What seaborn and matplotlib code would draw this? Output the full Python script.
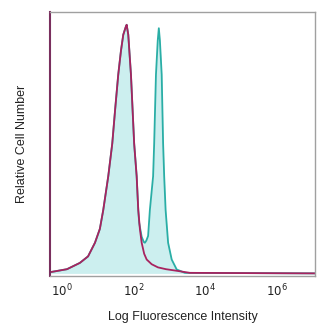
import numpy as np
import pandas as pd
import matplotlib
matplotlib.use("Agg")
import matplotlib.pyplot as plt
import seaborn as sns

# log10 intensity exponents and relative counts
mag_exp = [-0.33, -0.2, 0.13, 0.49, 0.72, 0.913, 1.05, 1.145, 1.285, 1.397, 1.48, 1.565,
           1.64, 1.705, 1.77, 1.80, 1.845, 1.92, 2.01, 2.08, 2.125, 2.17, 2.22, 2.29,
           2.36, 2.5, 2.675, 2.9, 3.15, 3.57, 7.07]
mag_cnt = [0.005, 0.008, 0.016, 0.04, 0.065, 0.117, 0.17, 0.242, 0.371, 0.496, 0.63, 0.760,
           0.85, 0.912, 0.94, 0.950, 0.912, 0.760, 0.496, 0.371, 0.242, 0.17, 0.117, 0.075,
           0.053, 0.035, 0.023, 0.016, 0.011, 0.002, 0.0]

teal_exp = [-0.33, -0.2, 0.13, 0.49, 0.72, 0.913, 1.05, 1.145, 1.285, 1.397, 1.48, 1.565,
            1.64, 1.705, 1.77, 1.80, 1.845, 1.92, 2.01, 2.08, 2.125, 2.15, 2.22, 2.28,
            2.31, 2.35, 2.40, 2.45, 2.54, 2.57, 2.62, 2.67, 2.70, 2.73, 2.78, 2.82, 2.85,
            2.89, 2.96, 3.06, 3.20, 3.43, 7.07]
teal_cnt = [0.005, 0.008, 0.016, 0.04, 0.065, 0.117, 0.17, 0.242, 0.371, 0.496, 0.63, 0.760,
            0.85, 0.912, 0.94, 0.950, 0.912, 0.760, 0.496, 0.371, 0.242, 0.193, 0.14, 0.12,
            0.117, 0.125, 0.143, 0.243, 0.371, 0.496, 0.76, 0.89, 0.937, 0.89, 0.76, 0.496, 0.371,
            0.242, 0.117, 0.053, 0.015, 0.002, 0.0]

tick_exps = [0, 2, 4, 6]
x_label = "Log Fluorescence Intensity"
y_label = "Relative Cell Number"

teal_line = "#2aaea6"
teal_fill = "#ccefef"
magenta = "#a8235f"

sns.set_style("white")
plt.rcParams['font.family'] = ['Liberation Sans', 'DejaVu Sans']

fig = plt.figure(figsize=(3.34, 3.30), dpi=100)
ax = fig.add_axes([50/334, 1-276/330, 265/334, (276-11.7)/330])

mag = pd.DataFrame({"x": np.power(10.0, mag_exp), "y": mag_cnt})
teal = pd.DataFrame({"x": np.power(10.0, teal_exp), "y": teal_cnt})

ax.fill_between(teal["x"], 0, teal["y"], color=teal_fill, linewidth=0)
sns.lineplot(data=teal, x="x", y="y", ax=ax, color=teal_line, linewidth=1.3, sort=False)
sns.lineplot(data=mag, x="x", y="y", ax=ax, color=magenta, linewidth=1.3, sort=False)

ax.set_xscale("log")
ax.set_xlim(10**-0.345, 10**7.07)
ax.set_ylim(-0.01, 1.0)
ax.set_xticks([10.0**e for e in tick_exps])
ax.set_xticklabels([f"$10^{{{e}}}$" for e in tick_exps], fontsize=8.5, color="#222222")
ax.xaxis.set_minor_locator(matplotlib.ticker.NullLocator())
ax.set_yticks([])
ax.tick_params(axis="x", length=0, pad=5)
ax.set_xlabel(x_label, fontsize=9, color="#222222", labelpad=8)
ax.set_ylabel(y_label, fontsize=9, color="#222222", labelpad=16)

for s in ["top", "right", "bottom"]:
    ax.spines[s].set_color("#a0a0a0")
    ax.spines[s].set_linewidth(1.0)
ax.spines["left"].set_color("#7a2f5e")
ax.spines["left"].set_linewidth(1.5)

fig.savefig("out.png", dpi=100)
